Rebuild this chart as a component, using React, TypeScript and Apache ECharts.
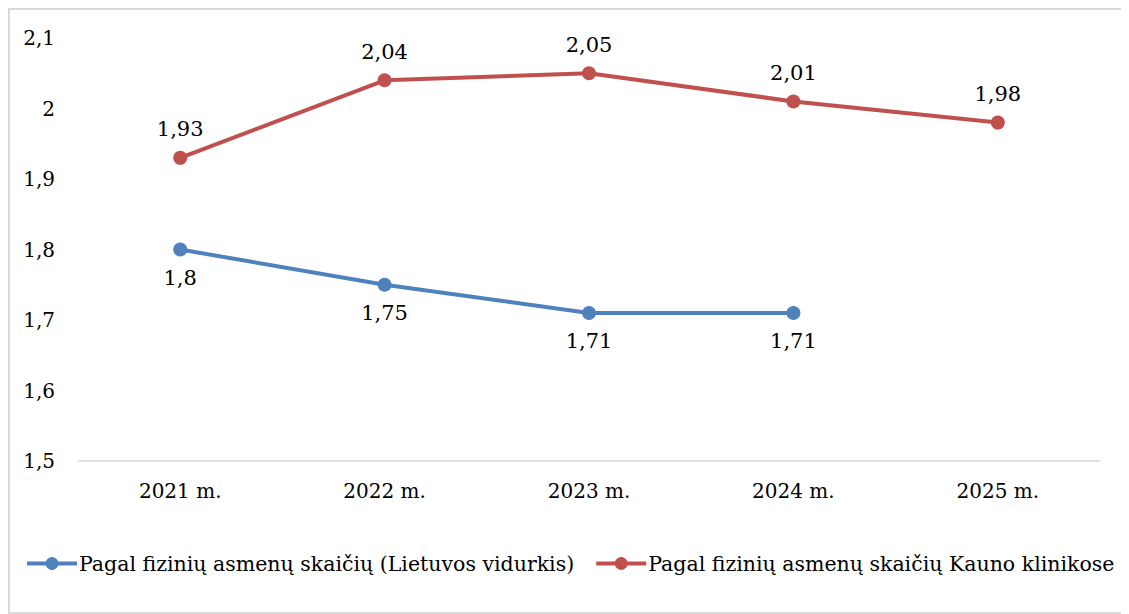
import React, { useEffect, useRef } from "react";
import * as echarts from "echarts";

const categories = ["2021 m.", "2022 m.", "2023 m.", "2024 m.", "2025 m."];
const lietuvosVidurkis = [1.8, 1.75, 1.71, 1.71, null];
const kaunoKlinikos = [1.93, 2.04, 2.05, 2.01, 1.98];
const seriesNames = [
  "Pagal fizinių asmenų skaičių (Lietuvos vidurkis)",
  "Pagal fizinių asmenų skaičių Kauno klinikose",
];

const FONT = "DejaVu Serif";
const FS = 20;
const FS_LABEL = 21;
const FS_LEGEND = 20.5;
const fmt = (v: number) => String(v).replace(".", ",");

export default function App() {
  const ref = useRef<HTMLDivElement>(null);
  useEffect(() => {
    if (!ref.current) return;
    const chart = echarts.init(ref.current, null, { renderer: "svg" });
    chart.setOption({
      animation: false,
      textStyle: { fontFamily: FONT, color: "#000" },
      grid: { left: 68, right: 27, top: 28, bottom: 151, containLabel: false },
      xAxis: {
        type: "category",
        data: categories,
        boundaryGap: true,
        axisLine: { lineStyle: { color: "#d9d9d9", width: 1.5 } },
        axisTick: { show: false },
        axisLabel: { color: "#000", fontSize: FS, fontFamily: FONT, margin: 20 },
      },
      yAxis: {
        type: "value",
        min: 1.5,
        max: 2.1,
        interval: 0.1,
        splitLine: { show: false },
        axisLine: { show: false },
        axisTick: { show: false },
        axisLabel: {
          color: "#000",
          fontSize: FS,
          fontFamily: FONT,
          margin: 23,
          formatter: (v: number) => fmt(Math.round(v * 10) / 10),
        },
      },
      legend: {
        bottom: 38,
        left: 15,
        right: 0,
        padding: 0,
        itemWidth: 50,
        itemHeight: 16,
        itemGap: 20,
        lineStyle: { width: 4 },
        textStyle: { fontSize: FS_LEGEND, fontFamily: FONT, color: "#000", padding: [0, 0, 0, -3] },
        data: seriesNames,
      },
      series: [
        {
          name: seriesNames[0],
          type: "line",
          data: lietuvosVidurkis,
          color: "#4f81bd",
          lineStyle: { width: 4, color: "#4f81bd" },
          symbol: "circle",
          symbolSize: 14,
          label: {
            show: true,
            position: "bottom",
            distance: 11,
            fontSize: FS_LABEL,
            fontFamily: FONT,
            color: "#000",
            formatter: (p: any) => fmt(p.value),
          },
        },
        {
          name: seriesNames[1],
          type: "line",
          data: kaunoKlinikos,
          color: "#c0504d",
          lineStyle: { width: 4, color: "#c0504d" },
          symbol: "circle",
          symbolSize: 14,
          label: {
            show: true,
            position: "top",
            distance: 11,
            fontSize: FS_LABEL,
            fontFamily: FONT,
            color: "#000",
            formatter: (p: any) => fmt(p.value),
          },
        },
      ],
    });
    return () => chart.dispose();
  }, []);
  return (
    <div
      ref={ref}
      style={{
        width: 1121,
        height: 606,
        boxSizing: "border-box",
        border: "2px solid #d9d9d9",
        background: "#fff",
      }}
    />
  );
}
